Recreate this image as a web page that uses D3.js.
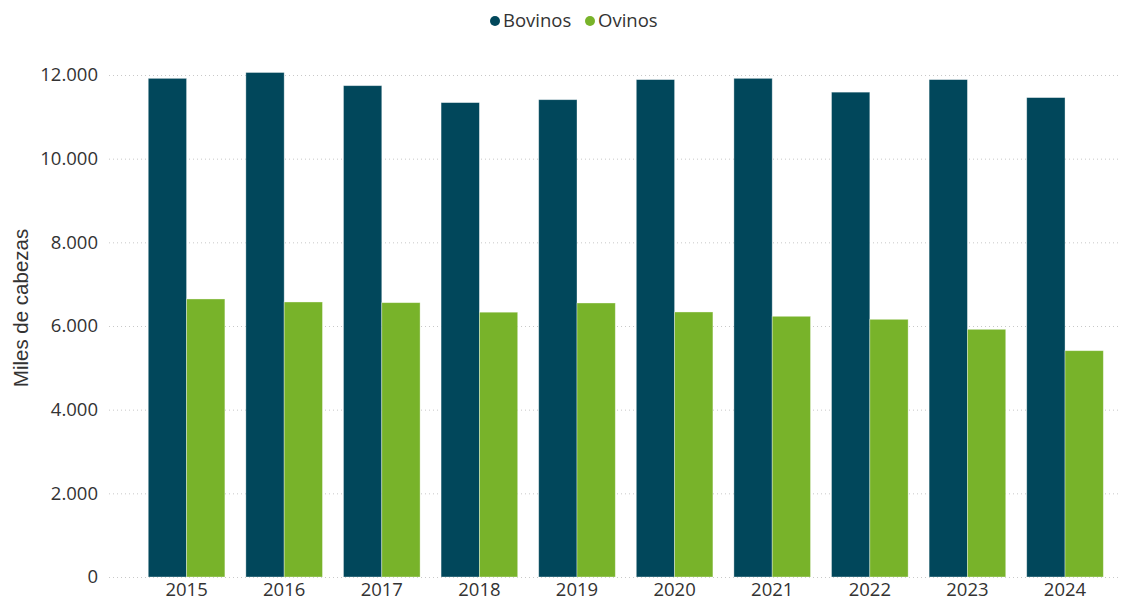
<!DOCTYPE html>
<html><head><meta charset="utf-8">
<script src="https://cdn.jsdelivr.net/npm/d3@7"></script>
<style>body{margin:0;background:#fff;font-family:"Open Sans",sans-serif}</style>
</head><body>
<svg id="c" width="1124" height="602"></svg>
<script>
const years = ["2015","2016","2017","2018","2019","2020","2021","2022","2023","2024"];
const seriesNames = ["Bovinos","Ovinos"];
const bovinos = [11920,12060,11745,11340,11410,11890,11920,11590,11890,11460];
const ovinos = [6646,6574,6558,6330,6550,6335,6232,6160,5921,5410];
const yTicks = [0,2000,4000,6000,8000,10000,12000];
const colors = ["#01475b","#78b32a"];

const svg = d3.select("#c");
const y = d3.scaleLinear().domain([0,12000]).range([577,75]);
const x = d3.scaleBand().domain(years).range([138.5,1113.1]).paddingInner(0.215).paddingOuter(0.1);
const xs = d3.scaleBand().domain(seriesNames).range([0,x.bandwidth()]);
const fmt = v => d3.format(",")(v).replace(/,/g,".");

// grid
const yAxis = d3.axisLeft(y).tickValues(yTicks).tickFormat(fmt).tickSize(0).tickPadding(0);
const gy = svg.append("g").attr("transform","translate(98,0)").call(yAxis);
gy.select(".domain").remove();
gy.selectAll("text").attr("font-size",18.5).attr("fill","#333").attr("font-family","'Open Sans',sans-serif");
svg.append("g").selectAll("line").data(yTicks).join("line")
  .attr("x1",109).attr("x2",1118).attr("y1",d=>y(d)+0.5).attr("y2",d=>y(d)+0.5)
  .attr("stroke","#c8c8c8").attr("stroke-width",1).attr("stroke-dasharray","1,3");

const data = years.map((yr,i)=>({yr, vals:[{s:"Bovinos",v:bovinos[i]},{s:"Ovinos",v:ovinos[i]}]}));
svg.append("g").selectAll("g").data(data).join("g")
  .attr("transform",d=>`translate(${x(d.yr)},0)`)
  .selectAll("rect").data(d=>d.vals).join("rect")
  .attr("x",d=>xs(d.s)).attr("width",xs.bandwidth())
  .attr("y",d=>y(d.v)).attr("height",d=>y(0)-y(d.v))
  .attr("fill",(d,i)=>colors[i]).attr("stroke","rgba(255,255,255,0.45)").attr("stroke-width",0.8);

const xAxis = d3.axisBottom(x).tickSize(0).tickPadding(0);
const gx = svg.append("g").attr("transform","translate(0,596)").call(xAxis);
gx.select(".domain").remove();
gx.selectAll("text").attr("font-size",18.5).attr("fill","#333").attr("dy",0).attr("font-family","'Open Sans',sans-serif");

svg.append("text").attr("transform","translate(28,308) rotate(-90)").attr("text-anchor","middle")
  .attr("font-family","'Liberation Sans',Arial,sans-serif")
  .attr("font-size",20.5).attr("fill","#333").text("Miles de cabezas");

// legend
const leg = svg.append("g");
const lx = [495,590];
seriesNames.forEach((s,i)=>{
  leg.append("circle").attr("cx",lx[i]).attr("cy",21).attr("r",5).attr("fill",colors[i]);
  leg.append("text").attr("x",lx[i]+8).attr("y",21).attr("dy","0.35em").attr("font-size",18.5).attr("fill","#333").text(s);
});
</script>
</body></html>
